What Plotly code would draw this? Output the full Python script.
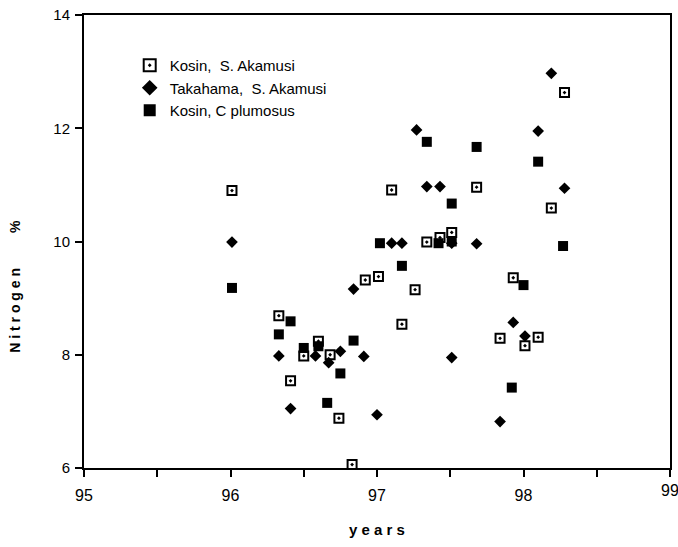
import plotly.graph_objects as go

# Kosin, S. Akamusi (open squares with dot)
kosin_s_x = [96.01, 96.33, 96.41, 96.50, 96.60, 96.68, 96.74, 96.83, 96.92, 97.01, 97.10, 97.17,
             97.26, 97.34, 97.43, 97.51, 97.68, 97.84, 97.93, 98.01, 98.10, 98.19, 98.28]
kosin_s_y = [10.90, 8.69, 7.54, 7.98, 8.24, 8.00, 6.88, 6.06, 9.32, 9.38, 10.91, 8.54,
             9.15, 9.99, 10.07, 10.16, 10.96, 8.29, 9.36, 8.16, 8.31, 10.59, 12.63]

# Takahama, S. Akamusi (diamonds)
taka_x = [96.01, 96.33, 96.41, 96.58, 96.67, 96.75, 96.84, 96.91, 97.00, 97.10, 97.17, 97.27,
          97.34, 97.43, 97.51, 97.51, 97.68, 97.84, 97.93, 98.01, 98.10, 98.19, 98.28]
taka_y = [9.99, 7.98, 7.05, 7.98, 7.86, 8.06, 9.16, 7.97, 6.94, 9.97, 9.97, 11.97,
          10.97, 10.97, 9.97, 7.95, 9.96, 6.82, 8.57, 8.33, 11.95, 12.97, 10.94]

# Kosin, C plumosus (filled squares)
plum_x = [96.01, 96.33, 96.41, 96.50, 96.60, 96.66, 96.75, 96.84, 97.02, 97.17, 97.34, 97.42,
          97.51, 97.51, 97.68, 97.92, 98.00, 98.10, 98.27]
plum_y = [9.18, 8.36, 8.59, 8.12, 8.15, 7.15, 7.67, 8.25, 9.97, 9.57, 11.76, 9.97,
          10.00, 10.67, 11.67, 7.42, 9.23, 11.41, 9.92]

x_ticks = [95, 96, 97, 98]
x_last_tick = 99
y_ticks = [6, 8, 10, 12, 14]

font_fam = "Liberation Sans, Arial, sans-serif"

fig = go.Figure()
fig.add_trace(go.Scatter(x=kosin_s_x, y=kosin_s_y, mode="markers", name="Kosin,  S. Akamusi",
                         marker=dict(symbol="square-open-dot", size=9, color="black",
                                     line=dict(width=2, color="black"))))
fig.add_trace(go.Scatter(x=taka_x, y=taka_y, mode="markers", name="Takahama,  S. Akamusi",
                         marker=dict(symbol="diamond", size=9, color="black")))
fig.add_trace(go.Scatter(x=plum_x, y=plum_y, mode="markers", name="Kosin, C plumosus",
                         marker=dict(symbol="square", size=10, color="black")))

fig.update_layout(
    width=678, height=547,
    margin=dict(l=84, r=6, t=12, b=79),
    paper_bgcolor="white", plot_bgcolor="white",
    font=dict(family=font_fam, size=14, color="black"),
    showlegend=True,
    legend=dict(x=0.078, y=0.925, xanchor="left", yanchor="top",
                bgcolor="rgba(0,0,0,0)", font=dict(size=15, family=font_fam),
                itemsizing="constant", tracegroupgap=0),
    xaxis=dict(range=[95, 99], tickvals=x_ticks, ticktext=[str(v) for v in x_ticks],
               showgrid=False, zeroline=False, showline=True, linecolor="black", linewidth=2,
               mirror=True, ticks="outside", ticklen=7, tickwidth=2, tickcolor="black",
               minor=dict(dtick=0.5, ticks="outside", ticklen=7, tickwidth=2, tickcolor="black"),
               tickfont=dict(size=16), ticklabelstandoff=5),
    yaxis=dict(range=[6, 14], tickvals=y_ticks, ticktext=[str(v) for v in y_ticks],
               showgrid=False, zeroline=False, showline=True, linecolor="black", linewidth=2,
               mirror=True, ticks="outside", ticklen=7, tickwidth=2, tickcolor="black",
               tickfont=dict(size=15), ticklabelstandoff=2),
    annotations=[
        dict(text=str(x_last_tick), x=x_last_tick, xref="x", y=0, yref="paper",
             yanchor="top", xanchor="center", yshift=-12, showarrow=False,
             font=dict(size=16, family=font_fam)),
        dict(text="<b>y e a r s</b>", x=0.5, xref="paper", y=-0.136, yref="paper",
             xanchor="center", yanchor="middle", showarrow=False,
             font=dict(size=15, family=font_fam)),
        dict(text="<b>N i t r o g e n</b>" + "\u00a0" * 9 + "<b>%</b>",
             x=-0.117, xref="paper", y=0.401, yref="paper", textangle=-90,
             xanchor="center", yanchor="middle", showarrow=False,
             font=dict(size=14, family=font_fam)),
    ],
)

fig.write_html("out.html")
